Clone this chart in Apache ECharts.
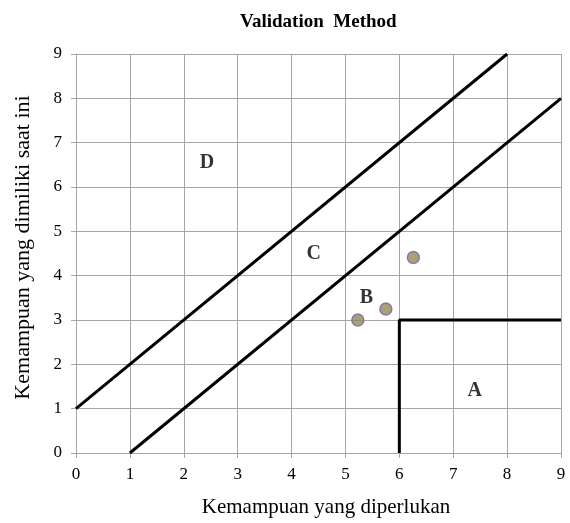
<!DOCTYPE html>
<html><head><meta charset="utf-8">
<script src="https://cdn.jsdelivr.net/npm/echarts@6/dist/echarts.min.js"></script>
<style>html,body{margin:0;padding:0;background:#fff}#c{width:570px;height:523px}</style>
</head><body><div id="c"></div>
<script>
var titleText = 'Validation  Method';
var xName = 'Kemampuan yang diperlukan';
var yName = 'Kemampuan yang dimiliki saat ini';
var upperLine = [[0, 1], [8, 9]];
var lowerLine = [[1, 0], [9, 8]];
var regionA = [[6, 0], [6, 3], [9, 3]];
var points = [[5.23, 3.0], [5.75, 3.25], [6.26, 4.41]];
var zoneLabels = [[2.43, 6.55, 'D'], [4.41, 4.5, 'C'], [5.39, 3.5, 'B'], [7.4, 1.4, 'A']];

var font = '"Liberation Serif", "Times New Roman", serif';
var chart = echarts.init(document.getElementById('c'));
function lineSeries(d){
  return {type:'line', data:d, symbol:'none', lineStyle:{color:'#000', width:3}, silent:true, z:3};
}
chart.setOption({
  animation:false,
  title:{text:titleText, left:235, top:8, textStyle:{fontFamily:font, fontWeight:'bold', fontSize:19, color:'#000'}},
  grid:{left:76, right:9, top:54, bottom:67},
  xAxis:{type:'value', min:0, max:9, interval:1,
    name:xName, nameLocation:'middle', nameGap:44,
    nameTextStyle:{fontFamily:font, fontSize:21, color:'#000', padding:[0,0,0,15]},
    axisLine:{lineStyle:{color:'#a6a6a6'}},
    axisTick:{show:true, length:5, lineStyle:{color:'#a6a6a6'}},
    axisLabel:{fontFamily:font, fontSize:17, color:'#000', margin:13},
    splitLine:{lineStyle:{color:'#a6a6a6', width:1}}},
  yAxis:{type:'value', min:0, max:9, interval:1,
    name:yName, nameLocation:'middle', nameGap:42, nameRotate:90,
    nameTextStyle:{fontFamily:font, fontSize:22, color:'#000', padding:[0,0,0,12]},
    axisLine:{show:true, lineStyle:{color:'#a6a6a6'}},
    axisTick:{show:true, length:5, lineStyle:{color:'#a6a6a6'}},
    axisLabel:{fontFamily:font, fontSize:17, color:'#000', margin:14},
    splitLine:{lineStyle:{color:'#a6a6a6', width:1}}},
  series:[
    lineSeries(upperLine), lineSeries(lowerLine), lineSeries(regionA),
    {type:'scatter', data:points, symbolSize:12,
     itemStyle:{color:'#948a54', borderColor:'#8064a2', borderWidth:1.5}, z:4},
    {type:'scatter', data:zoneLabels.map(function(p){return {value:[p[0],p[1]], name:p[2]};}),
     symbolSize:0, z:5, itemStyle:{color:'#000'},
     label:{show:true, position:'inside', formatter:'{b}', fontFamily:font, fontWeight:'bold', fontSize:20, color:'#000', textBorderWidth:0}}
  ]
});
</script></body></html>
